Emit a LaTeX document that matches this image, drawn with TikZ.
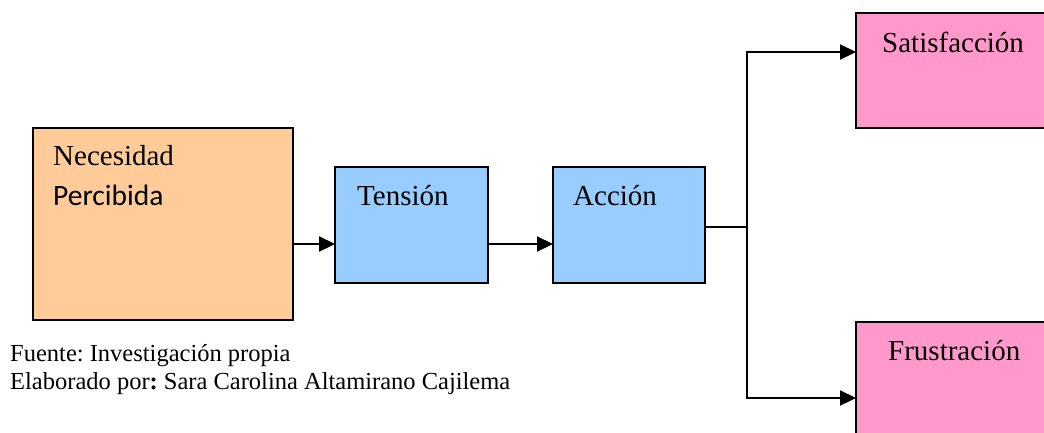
\documentclass[tikz,border=0pt]{standalone}
\usepackage{fontspec}
\setmainfont{Liberation Serif}
\newfontfamily\calibrifont{Carlito}
\usetikzlibrary{arrows.meta}
\definecolor{orangeC}{HTML}{FFCC99}
\definecolor{blueC}{HTML}{99CCFF}
\definecolor{pinkC}{HTML}{FF99CC}
\frenchspacing
\begin{document}
\begin{tikzpicture}[x=1pt,y=-1pt,
  box/.style={draw=black, line width=1.5pt, anchor=north west, inner sep=0pt, outer sep=0pt},
  lbl/.style={anchor=base west, inner sep=0pt, font=\fontsize{29}{32}\selectfont},
  note/.style={anchor=base west, inner sep=0pt, font=\fontsize{24.5}{28}\selectfont},
  arr/.style={line width=2.2pt, -{Triangle[length=16pt,width=15pt]}},
  conn/.style={line width=2.2pt}]
\useasboundingbox (0,0) rectangle (1044,432);
\clip (0,0) rectangle (1044,432);
\node[box, fill=orangeC, minimum width=260pt, minimum height=192pt] (nec) at (33,128) {};
\node[box, fill=blueC, minimum width=153pt, minimum height=116pt] (ten) at (335,167) {};
\node[box, fill=blueC, minimum width=152pt, minimum height=116pt] (acc) at (553,167) {};
\node[box, fill=pinkC, minimum width=200pt, minimum height=115pt] (sat) at (856,13) {};
\node[box, fill=pinkC, minimum width=200pt, minimum height=130pt] (fru) at (856,322) {};
\node[lbl] (tnec) at (53,165) {Necesidad};
\node[lbl, font=\fontsize{29.5}{32}\calibrifont] (tper) at (53,205) {Percibida};
\node[lbl] (tten) at (357,205) {Tensión};
\node[lbl] (tacc) at (573,205) {Acción};
\node[lbl] (tsat) at (882,52) {Satisfacción};
\node[lbl] (tfru) at (888,360) {Frustración};
\node[note] (fuente) at (10,361) {Fuente: Investigación propia};
\node[note] (elab) at (10,389) {Elaborado por\textbf{:} Sara Carolina Altamirano Cajilema};
\draw[arr] ([yshift=-20pt]nec.east) -- ([yshift=-20pt]nec.east -| ten.west);
\draw[arr] ([yshift=-19pt]ten.east) -- ([yshift=-19pt]ten.east -| acc.west);
\coordinate (j) at (747,227);
\coordinate (js) at (747,52);
\coordinate (jf) at (747,398);
\draw[conn] (acc.east |- j) -- (j);
\draw[arr] (j) -- (js) -- (js -| sat.west);
\draw[arr] (j) -- (jf) -- (jf -| fru.west);
\end{tikzpicture}
\end{document}
